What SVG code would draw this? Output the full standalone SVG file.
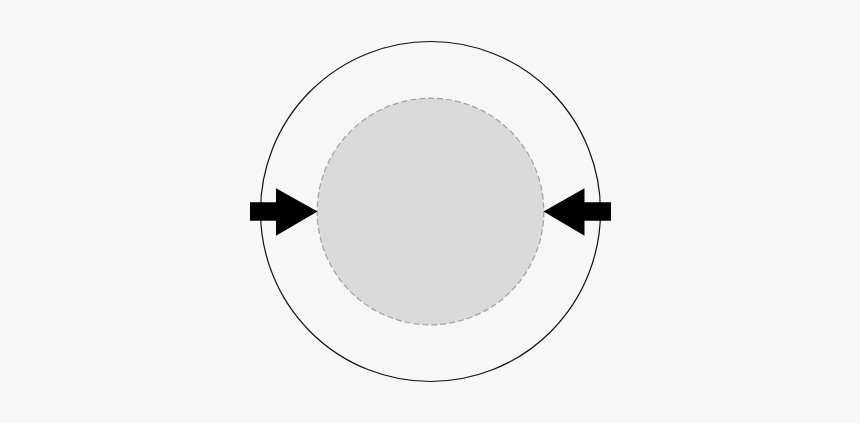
<svg xmlns="http://www.w3.org/2000/svg" width="860" height="423" viewBox="0 0 860 423">
<style>
.bg{fill:#f7f7f7}
.outer{fill:none;stroke:#111;stroke-width:1.2}
.inner{fill:#dadada;stroke:#a0a0a0;stroke-width:1.2;stroke-dasharray:6 3}
.arrow{fill:#000}
</style>
<rect class="bg" x="0" y="0" width="860" height="423"/>
<g id="outer-circle"><circle class="outer" cx="430.5" cy="211.5" r="170"/></g>
<g id="inner-circle"><circle class="inner" cx="430.5" cy="211.5" r="113.3"/></g>
<g id="connectors">
<polygon class="arrow" points="250,202.3 276,202.3 276,188.3 317.5,211.5 276,235.7 276,220.8 250,220.8"/>
<polygon class="arrow" points="611,202.3 584.5,202.3 584.5,188.3 543.5,211.5 584.5,235.7 584.5,220.8 611,220.8"/>
</g>
</svg>
